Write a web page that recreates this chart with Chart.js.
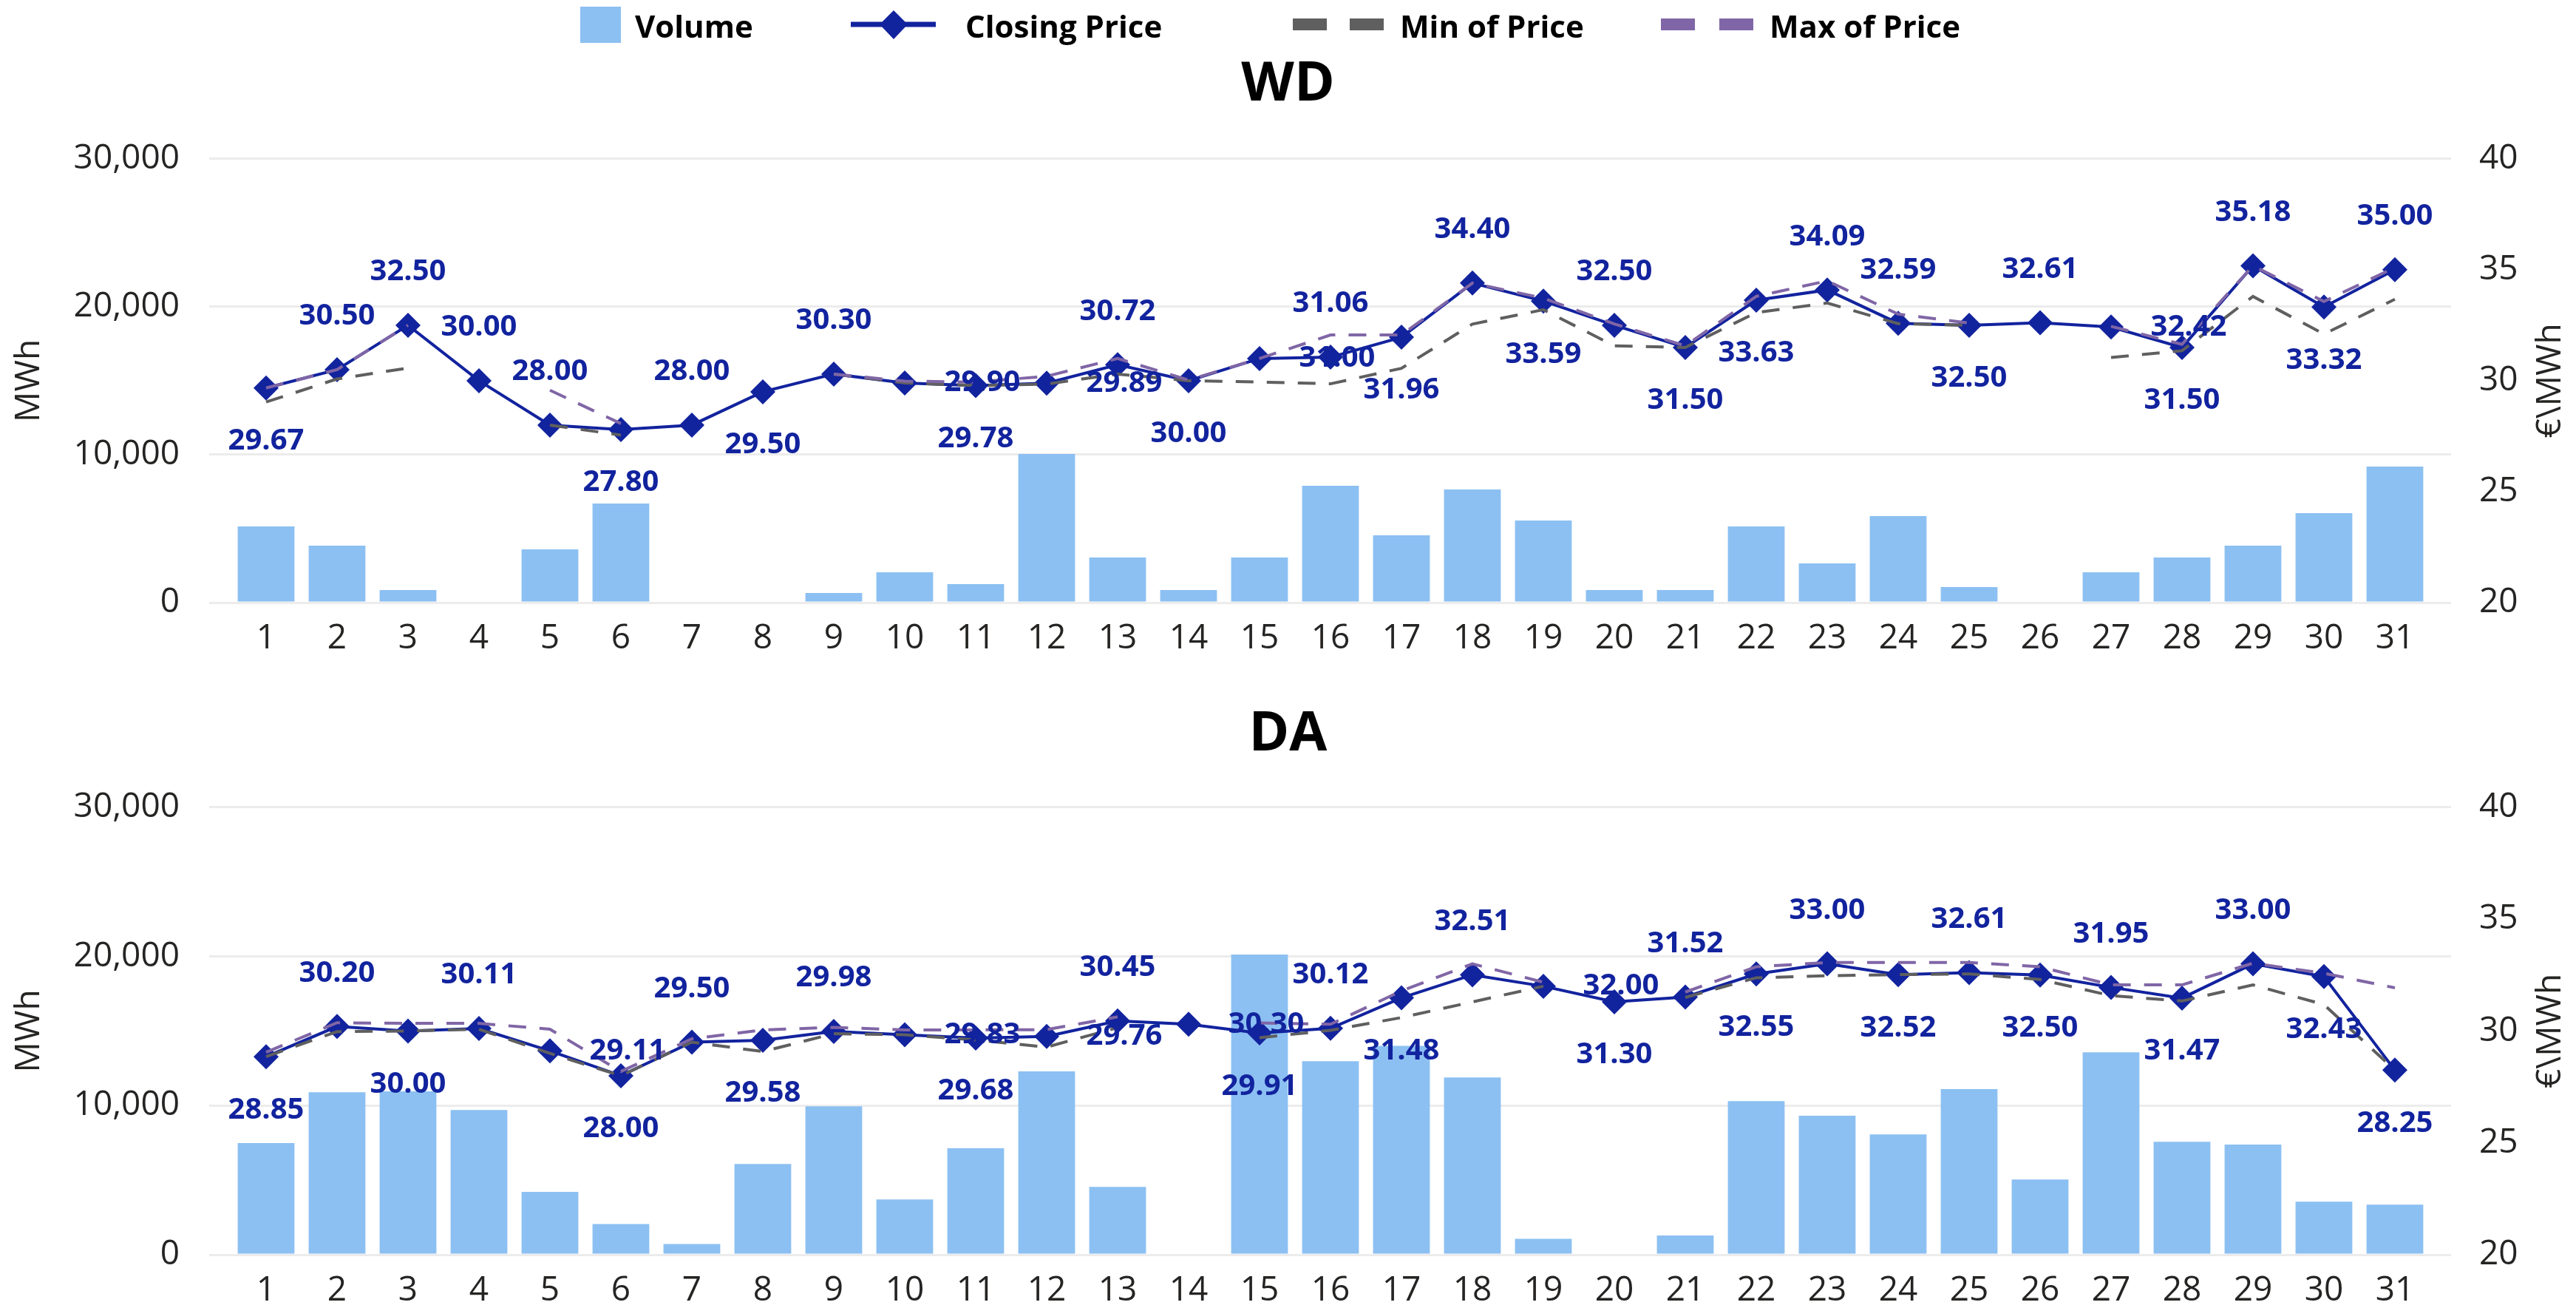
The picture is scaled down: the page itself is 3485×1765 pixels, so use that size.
<!DOCTYPE html>
<html><head><meta charset="utf-8">
<script src="https://cdn.jsdelivr.net/npm/chart.js@4.4.1/dist/chart.umd.min.js"></script>
<style>
html,body{margin:0;padding:0;background:#fff;}
#wrap{position:relative;width:3485px;height:1765px;overflow:hidden;background:#fff;}
canvas{position:absolute;left:0;}
</style></head><body>
<div id="wrap">
<canvas id="wd" width="3485" height="885" style="top:0;width:3485px;height:885px"></canvas>
<canvas id="da" width="3485" height="865" style="top:900px;width:3485px;height:865px"></canvas>
</div>
<script>
// ---- categories ----
const days = [1,2,3,4,5,6,7,8,9,10,11,12,13,14,15,16,17,18,19,20,21,22,23,24,25,26,27,28,29,30,31];
const seriesNames = ['Volume', 'Closing Price', 'Min of Price', 'Max of Price'];
const chartTitles = ['WD', 'DA'];
const leftAxisTitle = 'MWh';
const rightAxisTitle = '€\\MWh';

// ---- WD ----
const wdVolume = [5150, 3850, 850, null, 3600, 6700, null, null, 650, 2050, 1250, 10050, 3050, 850, 3050, 7900, 4550, 7650, 5550, 850, 850, 5150, 2650, 5850, 1050, null, 2050, 3050, 3850, 6050, 9200];
const wdClose  = [29.67, 30.50, 32.50, 30.00, 28.00, 27.80, 28.00, 29.50, 30.30, 29.90, 29.78, 29.89, 30.72, 30.00, 31.00, 31.06, 31.96, 34.40, 33.59, 32.50, 31.50, 33.63, 34.09, 32.59, 32.50, 32.61, 32.42, 31.50, 35.18, 33.32, 35.00];
const wdMin    = [29.04, 30.08, 30.57, null, 28.00, 27.55, null, null, 30.30, 29.90, 29.78, 29.85, 30.30, 30.00, 29.94, 29.86, 30.56, 32.55, 33.20, 31.57, 31.50, 33.07, 33.50, 32.57, 32.50, null, 31.05, 31.35, 33.80, 32.10, 33.67];
const wdMax    = [29.67, 30.50, 32.50, null, 29.57, 28.07, null, null, 30.30, 29.98, 29.94, 30.20, 31.00, 30.03, 31.00, 32.06, 32.06, 34.40, 33.72, 32.56, 31.57, 33.80, 34.50, 33.00, 32.60, null, 32.45, 31.64, 35.18, 33.57, 35.10];
// label placement of closing-price labels: t = above, b = below, r = right
const wdLabelPlace = ['b','t','t','t','t','b','t','b','t','r','b','r','t','b','r','t','b','t','b','t','b','b','t','t','b','t','r','b','t','b','t'];

// ---- DA ----
const daVolume = [7480, 10890, 10960, 9700, 4210, 2060, 720, 6080, 9950, 3700, 7140, 12290, 4550, null, 20130, 12975, 14000, 11880, 1070, null, 1290, 10300, 9320, 8070, 11100, 5040, 13570, 7570, 7380, 3560, 3360];
const daClose  = [28.85, 30.20, 30.00, 30.11, 29.11, 28.00, 29.50, 29.58, 29.98, 29.83, 29.68, 29.76, 30.45, 30.30, 29.91, 30.12, 31.48, 32.51, 32.00, 31.30, 31.52, 32.55, 33.00, 32.52, 32.61, 32.50, 31.95, 31.47, 33.00, 32.43, 28.25];
const daMin    = [28.85, 29.97, 30.00, 30.08, 29.00, 28.00, 29.50, 29.08, 29.88, 29.83, 29.60, 29.28, 30.15, null, 29.70, 30.03, 30.60, 31.30, 32.00, null, 31.50, 32.38, 32.47, 32.52, 32.55, 32.30, 31.58, 31.34, 32.06, 31.18, 28.25];
const daMax    = [29.05, 30.37, 30.34, 30.34, 30.08, 28.19, 29.65, 30.05, 30.16, 30.05, 30.05, 30.06, 30.63, null, 30.36, 30.30, 31.79, 33.00, 32.18, null, 31.74, 32.87, 33.06, 33.06, 33.06, 32.87, 32.06, 32.06, 33.03, 32.58, 31.93];
const daLabelPlace = ['b','t','b','t','r','b','t','b','t','r','b','r','t','r','b','t','b','t','r','b','t','b','t','b','t','b','t','b','t','b','b'];

// ---- styles ----
const FONT = "'Open Sans', 'Noto Sans', sans-serif";
const C_VOL = '#8CC0F2';
const C_CLOSE = '#12239E';
const C_MIN = '#5F5F5F';
const C_MAX = '#8066A6';
const C_TEXT = '#252423';
const C_GRID = '#ececec';

Chart.defaults.font.family = FONT;
Chart.defaults.color = C_TEXT;

const pts = (arr) => days.map((d, i) => ({ x: d, y: arr[i] }));

const closingLabels = {
  id: 'closingLabels',
  afterDatasetsDraw(chart, args, opts) {
    const ctx = chart.ctx;
    const meta = chart.getDatasetMeta(1);
    const ds = chart.data.datasets[1].data;
    ctx.save();
    ctx.font = 'bold 40px ' + FONT;
    ctx.fillStyle = C_CLOSE;
    ctx.textAlign = 'center';
    ctx.textBaseline = 'middle';
    meta.data.forEach((el, i) => {
      let x = el.x, y = el.y;
      const p = opts.place[i];
      if (p === 't') y -= 72;
      else if (p === 'b') y += 72;
      else x += 105;
      ctx.fillText(ds[i].y.toFixed(2), x, y);
    });
    ctx.restore();
  }
};

const rightTitle = {
  id: 'rightTitle',
  afterDraw(chart) {
    const ctx = chart.ctx;
    const a = chart.chartArea;
    ctx.save();
    ctx.translate(3451, (a.top + a.bottom) / 2);
    ctx.rotate(-Math.PI / 2);
    ctx.font = '46px ' + FONT;
    ctx.fillStyle = C_TEXT;
    ctx.textAlign = 'center';
    ctx.textBaseline = 'middle';
    ctx.fillText(rightAxisTitle, 0, 0);
    ctx.restore();
  }
};

const topLegend = {
  id: 'topLegend',
  afterDraw(chart, args, opts) {
    if (!opts.show) return;
    const ctx = chart.ctx;
    ctx.save();
    ctx.fillStyle = C_VOL;
    ctx.fillRect(785, 9, 55, 49);
    ctx.strokeStyle = C_CLOSE; ctx.lineWidth = 7;
    ctx.beginPath(); ctx.moveTo(1151, 33); ctx.lineTo(1266, 33); ctx.stroke();
    ctx.fillStyle = C_CLOSE;
    ctx.beginPath(); ctx.moveTo(1190, 33); ctx.lineTo(1209, 14); ctx.lineTo(1228, 33); ctx.lineTo(1209, 53); ctx.closePath(); ctx.fill();
    ctx.fillStyle = C_MIN;
    ctx.fillRect(1749, 25, 46, 16); ctx.fillRect(1826, 25, 46, 16);
    ctx.fillStyle = C_MAX;
    ctx.fillRect(2247, 25, 46, 16); ctx.fillRect(2326, 25, 46, 16);
    ctx.fillStyle = '#000';
    ctx.font = 'bold 42px ' + FONT;
    ctx.textBaseline = 'alphabetic';
    ctx.textAlign = 'left';
    const xs = [859, 1306, 1894, 2394];
    seriesNames.forEach((n, i) => ctx.fillText(n, xs[i], 51));
    ctx.restore();
  }
};

function makeChart(id, title, vol, close, min, max, place, cfg) {
  return new Chart(document.getElementById(id), {
    data: {
      datasets: [
        { type: 'bar', label: seriesNames[0], data: pts(vol), backgroundColor: C_VOL, borderWidth: 0,
          yAxisID: 'y', order: 10, categoryPercentage: 1, barPercentage: 0.8 },
        { type: 'line', label: seriesNames[1], data: pts(close), borderColor: C_CLOSE, backgroundColor: C_CLOSE,
          borderWidth: 4, pointStyle: 'rectRot', pointRadius: 17, pointBorderWidth: 0, pointBackgroundColor: C_CLOSE,
          yAxisID: 'y1', order: 3, tension: 0 },
        { type: 'line', label: seriesNames[2], data: pts(min), borderColor: C_MIN, borderWidth: 4, borderDash: [24, 18],
          pointRadius: 0, yAxisID: 'y1', order: 2, spanGaps: false, tension: 0 },
        { type: 'line', label: seriesNames[3], data: pts(max), borderColor: C_MAX, borderWidth: 4, borderDash: [24, 18],
          pointRadius: 0, yAxisID: 'y1', order: 1, spanGaps: false, tension: 0 }
      ]
    },
    options: {
      responsive: false, animation: false, devicePixelRatio: 1,
      layout: { padding: { top: cfg.layoutTop, left: 0, right: 0, bottom: 0 } },
      plugins: {
        legend: { display: false },
        tooltip: { enabled: false },
        title: { display: true, text: title, color: '#000', font: { size: 74, weight: 'bold', family: FONT },
                 padding: { top: cfg.titleTop, bottom: cfg.titleBottom } },
        closingLabels: { place: place },
        topLegend: { show: cfg.legend }
      },
      scales: {
        x: {
          type: 'linear', min: 0.198, max: 31.792, bounds: 'data', offset: false,
          grid: { display: false, offset: false }, border: { display: false },
          afterBuildTicks: (s) => { s.ticks = days.map(v => ({ value: v })); },
          ticks: { stepSize: 1, autoSkip: false, maxRotation: 0, padding: cfg.xPad,
                   font: { size: 46 }, color: C_TEXT, callback: (v) => String(v) },
          afterFit: (s) => { s.height = cfg.xHeight; }
        },
        y: {
          position: 'left', min: 0, max: 30000,
          ticks: { stepSize: 10000, padding: 40, font: { size: 46 }, color: C_TEXT },
          grid: { color: C_GRID, lineWidth: 3, drawTicks: false },
          border: { display: false },
          title: { display: true, text: leftAxisTitle, font: { size: 46 }, color: C_TEXT, padding: { top: 12, bottom: 0 } },
          afterFit: (s) => { s.width = 283; }
        },
        y1: {
          position: 'right', min: 20, max: 40,
          ticks: { stepSize: 5, padding: 38, font: { size: 46 }, color: C_TEXT },
          grid: { drawOnChartArea: false, drawTicks: false },
          border: { display: false },
          afterFit: (s) => { s.width = 169; }
        }
      }
    },
    plugins: [closingLabels, rightTitle, topLegend]
  });
}

makeChart('wd', chartTitles[0], wdVolume, wdClose, wdMin, wdMax, wdLabelPlace,
  { layoutTop: 60, titleTop: 11, titleBottom: 55, xHeight: 70, xPad: 13, legend: true });
makeChart('da', chartTitles[1], daVolume, daClose, daMin, daMax, daLabelPlace,
  { layoutTop: 0, titleTop: 50, titleBottom: 53, xHeight: 68, xPad: 13, legend: false });
</script>
</body></html>
